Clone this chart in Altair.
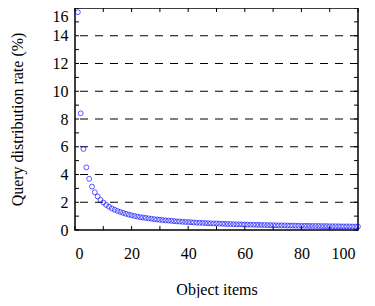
import altair as alt
import pandas as pd

# Data
items = list(range(1, 101))
rates = [
    15.70, 8.41, 5.84, 4.51, 3.69, 3.13, 2.72, 2.42, 2.17, 1.98,
    1.81, 1.68, 1.56, 1.46, 1.37, 1.30, 1.23, 1.17, 1.11, 1.06,
    1.01, 0.97, 0.93, 0.90, 0.87, 0.84, 0.81, 0.78, 0.76, 0.74,
    0.71, 0.69, 0.68, 0.66, 0.64, 0.62, 0.61, 0.59, 0.58, 0.57,
    0.56, 0.54, 0.53, 0.52, 0.51, 0.50, 0.49, 0.48, 0.47, 0.47,
    0.46, 0.45, 0.44, 0.43, 0.43, 0.42, 0.41, 0.41, 0.40, 0.39,
    0.39, 0.38, 0.38, 0.37, 0.37, 0.36, 0.36, 0.35, 0.35, 0.34,
    0.34, 0.33, 0.33, 0.33, 0.32, 0.32, 0.32, 0.31, 0.31, 0.30,
    0.30, 0.30, 0.29, 0.29, 0.29, 0.29, 0.28, 0.28, 0.28, 0.27,
    0.27, 0.27, 0.27, 0.26, 0.26, 0.26, 0.26, 0.25, 0.25, 0.25,
]
x_label_values = [0, 20, 40, 60, 80, 100]
y_label_values = [0, 2, 4, 6, 8, 10, 12, 14, 16]
x_tick_values = [0, 10, 20, 30, 40, 50, 60, 70, 80, 90, 100]
y_tick_values = list(range(0, 17))
grid_levels = [2, 4, 6, 8, 10, 12, 14]

W, H = 283, 222
TL = 4
FONT = "Liberation Serif"

df = pd.DataFrame({"item": items, "rate": rates})
xt = pd.DataFrame({"item": x_tick_values})
yt = pd.DataFrame({"rate": y_tick_values})
gr = pd.DataFrame({"rate": grid_levels})

xs = alt.Scale(domain=[0, 100], nice=False, zero=False)
ys = alt.Scale(domain=[0, 16], nice=False)

x_axis = alt.Axis(
    values=x_label_values,
    title="Object items",
    grid=False,
    ticks=False,
    domain=False,
    labelFont=FONT,
    labelFontSize=16,
    labelColor="black",
    labelPadding=15,
    labelOffset={"condition": {"test": "datum.value == 100", "value": -3}, "value": 0},
    titleFont=FONT,
    titleFontSize=16,
    titleFontWeight="normal",
    titleColor="black",
    titlePadding=20,
)
y_axis = alt.Axis(
    values=y_label_values,
    title="Query distribution rate (%)",
    grid=False,
    ticks=False,
    domain=False,
    labelFont=FONT,
    labelFontSize=16,
    labelColor="black",
    labelPadding=7,
    labelOffset={"condition": {"test": "datum.value == 16", "value": 8}, "value": 0},
    titleFont=FONT,
    titleFontSize=16,
    titleFontWeight="normal",
    titleColor="black",
    titlePadding=27,
)

X = lambda: alt.X("item:Q", scale=xs, axis=x_axis)
Y = lambda: alt.Y("rate:Q", scale=ys, axis=y_axis)

grid = alt.Chart(gr).mark_rule(color="black", strokeWidth=1, strokeDash=[8, 7]).encode(
    y=Y()
)

xticks_bottom = alt.Chart(xt).mark_rule(color="black", strokeWidth=1).encode(
    x=X(), y=alt.value(H), y2=alt.value(H - TL)
)
xticks_top = alt.Chart(xt).mark_rule(color="black", strokeWidth=1).encode(
    x=X(), y=alt.value(0), y2=alt.value(TL)
)
yticks_left = alt.Chart(yt).mark_rule(color="black", strokeWidth=1).encode(
    y=Y(), x=alt.value(0), x2=alt.value(TL)
)
yticks_right = alt.Chart(yt).mark_rule(color="black", strokeWidth=1).encode(
    y=Y(), x=alt.value(W), x2=alt.value(W - TL)
)

points = alt.Chart(df).mark_point(filled=False, color="#1010ff", size=24, strokeWidth=1).encode(
    x=X(), y=Y()
)

chart = (
    alt.layer(grid, xticks_bottom, xticks_top, yticks_left, yticks_right, points)
    .properties(
        width=W,
        height=H,
        autosize=alt.AutoSizeParams(type="none"),
        padding={"left": 67, "top": 0, "right": 9, "bottom": 68},
        background="white",
    )
    .configure_view(stroke="black", strokeWidth=1.5)
)

chart.save("out.html", embed_options={"renderer": "svg", "actions": False})
